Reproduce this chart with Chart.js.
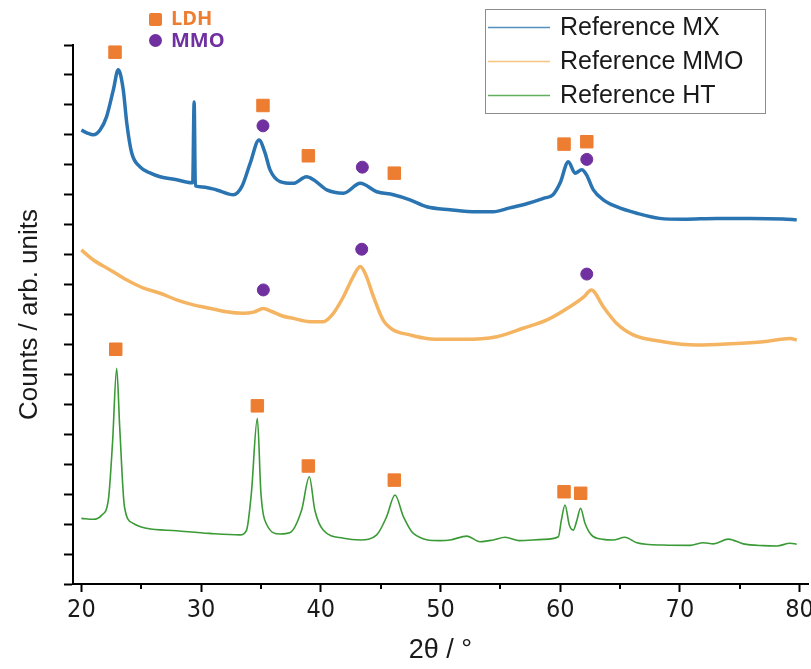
<!DOCTYPE html>
<html>
<head>
<meta charset="utf-8">
<script src="https://cdn.jsdelivr.net/npm/chart.js@4.4.0/dist/chart.umd.min.js"></script>
<style>
  html, body { margin: 0; padding: 0; background: #fff; }
  canvas { display: block; }
</style>
</head>
<body>
<canvas id="xrd" width="811" height="669"></canvas>
<script>
// 2theta (deg) / counts (arb. units)
const mxTheta = [20.0, 20.5, 21.0, 21.56, 22.1, 22.67, 23.08, 23.5, 23.79, 24.2, 24.9, 25.73, 26.57, 27.96, 29.2, 29.3, 29.42, 29.52, 29.9, 31.3, 32.7, 33.4, 34.1, 34.84, 35.34, 35.76, 36.6, 37.7, 38.8, 39.4, 40.5, 41.9, 43.3, 44.67, 46.06, 47.45, 48.85, 50.8, 53.0, 54.4, 55.8, 57.2, 58.6, 59.4, 59.98, 60.68, 61.24, 61.8, 62.2, 62.77, 63.6, 64.7, 66.4, 68.3, 70.3, 73.1, 75.9, 78.6, 79.76];
const mxCounts = [15.16, 15.06, 15.0, 15.16, 15.6, 16.5, 17.17, 16.5, 15.4, 14.4, 13.93, 13.73, 13.6, 13.5, 13.4, 13.4, 16.1, 13.3, 13.27, 13.16, 13.0, 13.27, 14.05, 14.83, 14.4, 13.83, 13.44, 13.38, 13.6, 13.5, 13.16, 13.05, 13.38, 13.1, 13.0, 12.83, 12.6, 12.5, 12.43, 12.43, 12.56, 12.7, 12.88, 13.0, 13.38, 14.1, 13.72, 13.83, 13.66, 13.16, 12.83, 12.6, 12.38, 12.21, 12.18, 12.21, 12.21, 12.19, 12.16];

const mmoTheta = [20.0, 21.0, 22.4, 23.8, 25.2, 26.57, 27.96, 29.35, 30.7, 32.1, 33.5, 34.4, 35.2, 35.9, 36.8, 37.7, 39.1, 40.2, 41.05, 41.9, 42.7, 43.3, 43.7, 44.4, 45.2, 46.06, 47.45, 48.85, 50.5, 51.9, 54.7, 56.9, 58.9, 60.8, 62.0, 62.6, 63.6, 64.7, 66.1, 68.6, 71.4, 74.2, 76.97, 79.2, 79.76];
const mmoCounts = [11.16, 10.82, 10.49, 10.15, 9.88, 9.71, 9.49, 9.32, 9.21, 9.09, 9.04, 9.08, 9.2, 9.1, 8.95, 8.87, 8.76, 8.76, 9.04, 9.6, 10.26, 10.6, 10.38, 9.6, 8.82, 8.48, 8.32, 8.2, 8.17, 8.17, 8.26, 8.54, 8.82, 9.26, 9.6, 9.82, 9.26, 8.71, 8.32, 8.09, 7.98, 8.02, 8.09, 8.2, 8.15];

const htTheta = [20.0, 21.0, 21.7, 22.25, 22.6, 22.95, 23.2, 23.6, 24.3, 25.45, 27.96, 30.7, 33.25, 33.8, 34.2, 34.7, 35.0, 35.5, 36.6, 37.4, 38.4, 39.04, 39.5, 40.2, 41.9, 43.3, 44.67, 45.5, 46.2, 46.9, 47.73, 49.96, 50.8, 52.2, 53.3, 54.4, 55.4, 56.6, 58.6, 59.85, 60.1, 60.4, 60.76, 61.1, 61.4, 61.7, 62.07, 62.6, 63.6, 64.4, 65.4, 66.4, 68.6, 70.85, 71.96, 72.8, 74.05, 75.3, 76.97, 78.1, 79.2, 79.76];
const htCounts = [2.19, 2.16, 2.3, 2.8, 4.7, 7.2, 5.25, 2.58, 2.03, 1.86, 1.78, 1.69, 1.64, 1.8, 3.03, 5.53, 3.03, 1.97, 1.67, 1.71, 2.47, 3.58, 2.47, 1.8, 1.53, 1.47, 1.64, 2.25, 2.97, 2.25, 1.69, 1.45, 1.47, 1.6, 1.41, 1.47, 1.56, 1.45, 1.49, 1.58, 2.14, 2.64, 1.97, 1.8, 2.14, 2.53, 2.03, 1.64, 1.49, 1.47, 1.56, 1.38, 1.3, 1.29, 1.38, 1.34, 1.5, 1.34, 1.28, 1.27, 1.36, 1.33];

// phase markers
const ldhX = [22.81, 35.17, 38.96, 46.14, 60.32, 62.22, 22.87, 34.7, 38.96, 46.14, 60.32, 61.71];
const ldhY = [17.76, 15.98, 14.3, 13.72, 14.69, 14.77, 7.84, 5.95, 3.94, 3.47, 3.08, 3.03];
const mmoX = [35.17, 43.47, 62.22, 35.2, 43.42, 62.22];
const mmoY = [15.3, 13.92, 14.18, 9.82, 11.18, 10.35];

const seriesNames = ["Reference MX", "Reference MMO", "Reference HT"];
const phaseNames = ["LDH", "MMO"];
const xTickLabels = [20, 30, 40, 50, 60, 70, 80];

const blue = "#2a74b1";
const orange = "#f5b462";
const green = "#3a9a36";
const ldhColor = "#ed7d31";
const mmoColor = "#7030a0";

const toPoints = (xs, ys) => xs.map((x, i) => ({ x, y: ys[i] }));

const traceStyle = (color, width) => ({
  type: "line",
  borderColor: color,
  backgroundColor: color,
  borderWidth: width,
  pointRadius: 0,
  cubicInterpolationMode: "monotone",
  fill: false,
  order: 2,
});

// keep the plot box fixed, no extra room for the outer tick labels
const noPadding = (scale) => {
  scale.getPadding = () => ({ left: 0, top: 0, right: 0, bottom: 0 });
};

const isMajor = (v) => xTickLabels.includes(v);

const overlay = {
  id: "overlay",
  afterDraw(chart) {
    const ctx = chart.ctx;
    ctx.save();

    // short minor ticks on the 2theta axis
    const xs = chart.scales.x;
    ctx.strokeStyle = "#000";
    ctx.lineWidth = 2;
    xs.ticks.forEach((t) => {
      if (isMajor(t.value)) return;
      const px = Math.round(xs.getPixelForValue(t.value));
      ctx.beginPath();
      ctx.moveTo(px, xs.top);
      ctx.lineTo(px, xs.top + 5);
      ctx.stroke();
    });

    // phase key, top left
    ctx.fillStyle = ldhColor;
    ctx.beginPath();
    ctx.roundRect(149, 13, 13, 13, 2);
    ctx.fill();
    ctx.fillStyle = mmoColor;
    ctx.beginPath();
    ctx.arc(155.5, 40.5, 6.5, 0, Math.PI * 2);
    ctx.fill();
    ctx.font = "bold 20px 'Open Sans', Lato, sans-serif";
    ctx.textBaseline = "middle";
    ctx.fillStyle = ldhColor;
    ctx.fillText(phaseNames[0], 171, 19.5);
    ctx.fillStyle = mmoColor;
    ctx.fillText(phaseNames[1], 171, 41);

    // series legend box, top right
    ctx.strokeStyle = "#8c8c8c";
    ctx.lineWidth = 1;
    ctx.strokeRect(485.5, 9.5, 280, 104);
    const rows = [27, 61, 95];
    const cols = [blue, orange, green];
    ctx.font = "25px 'Liberation Sans', Arial, sans-serif";
    ctx.fillStyle = "#1a1a1a";
    rows.forEach((y, i) => {
      ctx.strokeStyle = cols[i];
      ctx.globalAlpha = 0.8;
      ctx.lineWidth = 1.5;
      ctx.beginPath();
      ctx.moveTo(488, y + 0.5);
      ctx.lineTo(550, y + 0.5);
      ctx.stroke();
      ctx.globalAlpha = 1;
      ctx.fillText(seriesNames[i], 560, y + 1);
    });
    ctx.restore();
  },
};

new Chart(document.getElementById("xrd"), {
  type: "line",
  data: {
    datasets: [
      {
        type: "scatter",
        data: toPoints(ldhX, ldhY),
        pointStyle: "rect",
        pointRadius: 8.8,
        pointBackgroundColor: ldhColor,
        pointBorderColor: ldhColor,
        pointBorderWidth: 1,
        order: 0,
      },
      {
        type: "scatter",
        data: toPoints(mmoX, mmoY),
        pointStyle: "circle",
        pointRadius: 6,
        pointBackgroundColor: mmoColor,
        pointBorderColor: mmoColor,
        pointBorderWidth: 1,
        order: 0,
      },
      { label: seriesNames[0], data: toPoints(mxTheta, mxCounts), ...traceStyle(blue, 3.5) },
      { label: seriesNames[1], data: toPoints(mmoTheta, mmoCounts), ...traceStyle(orange, 3.5) },
      { label: seriesNames[2], data: toPoints(htTheta, htCounts), ...traceStyle(green, 1.6) },
    ],
  },
  options: {
    responsive: false,
    devicePixelRatio: 1,
    animation: false,
    layout: { autoPadding: false, padding: { top: 45, right: 3, left: 0, bottom: 0 } },
    plugins: {
      legend: { display: false },
      tooltip: { enabled: false },
    },
    scales: {
      x: {
        type: "linear",
        min: 19.3,
        max: 80.7,
        afterFit: (scale) => {
          scale.height = 85;
          noPadding(scale);
        },
        border: { display: true, color: "#000", width: 2 },
        grid: {
          display: true,
          drawOnChartArea: false,
          drawTicks: true,
          tickLength: 8,
          tickWidth: 2,
          tickColor: (c) => (c.tick && isMajor(c.tick.value) ? "#000" : "rgba(0,0,0,0)"),
        },
        ticks: {
          stepSize: 5,
          includeBounds: false,
          padding: 3,
          color: "#1a1a1a",
          font: { family: "'Liberation Sans Narrow', 'DejaVu Sans Condensed', sans-serif", size: 25 },
          callback: (v) => (isMajor(v) ? String(v) : ""),
        },
        title: {
          display: true,
          text: "2θ / °",
          color: "#1a1a1a",
          font: { family: "'Liberation Sans Narrow', 'Liberation Sans', sans-serif", size: 27 },
          padding: { top: 0, bottom: 2 },
        },
      },
      y: {
        type: "linear",
        min: 0,
        max: 18,
        afterFit: (scale) => {
          scale.width = 73;
          noPadding(scale);
        },
        border: { display: true, color: "#000", width: 2 },
        grid: { display: true, drawOnChartArea: false, drawTicks: true, tickLength: 9, tickColor: "#000", tickWidth: 2 },
        ticks: { stepSize: 1, display: false },
        title: {
          display: true,
          text: "Counts / arb. units",
          color: "#1a1a1a",
          font: { family: "'Liberation Sans', Arial, sans-serif", size: 26 },
          padding: { top: 14 },
        },
      },
    },
  },
  plugins: [overlay],
});
</script>
</body>
</html>
